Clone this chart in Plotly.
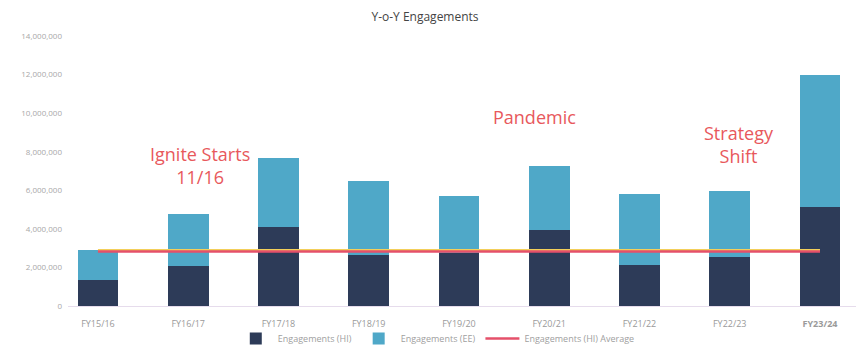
import plotly.graph_objects as go

# Fiscal years and engagement counts
years = ["FY15/16", "FY16/17", "FY17/18", "FY18/19", "FY19/20",
         "FY20/21", "FY21/22", "FY22/23", "FY23/24"]
engagements_hi = [1350000, 2090000, 4100000, 2650000, 2730000,
                  3940000, 2120000, 2550000, 5140000]
engagements_ee = [1550000, 2680000, 3600000, 3850000, 2970000,
                  3310000, 3700000, 3420000, 6830000]
hi_average = [2830000] * len(years)
hi_average_band = [2900000] * len(years)

tick_labels = years[:-1] + ["<b>FY23/24</b>"]
y_ticks = [0, 2000000, 4000000, 6000000, 8000000, 10000000, 12000000, 14000000]
y_tick_text = ["0", "2,000,000", "4,000,000", "6,000,000", "8,000,000",
               "10,000,000", "12,000,000", "14,000,000"]

DARK = "#2d3b58"
LIGHT = "#4fa8c8"
RED = "#e5506a"
YELLOW = "#f3cf5a"
ANNOT = "#e8585c"
FONT = "Open Sans, Liberation Sans, sans-serif"

fig = go.Figure()
fig.add_trace(go.Bar(x=years, y=engagements_hi, name="Engagements (HI)",
                     marker=dict(color=DARK, line=dict(width=0))))
fig.add_trace(go.Bar(x=years, y=engagements_ee, name="Engagements (EE)",
                     marker=dict(color=LIGHT, line=dict(width=0))))
fig.add_trace(go.Scatter(x=years, y=hi_average_band, mode="lines",
                         line=dict(color=YELLOW, width=2),
                         showlegend=False, hoverinfo="skip"))
fig.add_trace(go.Scatter(x=years, y=hi_average, mode="lines",
                         name="Engagements (HI) Average",
                         line=dict(color=RED, width=2.5)))

annotations = [
    dict(x=143, y=169, text="Ignite Starts<br>11/16"),
    dict(x=507, y=106, text="Pandemic"),
    dict(x=729, y=142, text="Strategy<br>Shift"),
]
for a in annotations:
    fig.add_annotation(x=a["x"] / 856, y=1 - a["y"] / 353, xref="paper", yref="paper",
                       xanchor="center", yanchor="middle", text=a["text"],
                       showarrow=False, align="center",
                       font=dict(family=FONT, size=18, color=ANNOT))

fig.update_layout(
    width=856, height=353,
    margin=dict(l=68, r=0, t=36, b=47),
    barmode="stack", bargap=0.55,
    paper_bgcolor="white", plot_bgcolor="white",
    title=dict(text="Y-o-Y Engagements", x=425 / 856, xanchor="center",
               y=1 - 17 / 353, yanchor="middle",
               font=dict(family=FONT, size=12, color="#444444")),
    font=dict(family=FONT, color="#9a9a9a"),
    legend=dict(orientation="h", x=0.468, xanchor="center",
                yref="container", y=-0.02, yanchor="bottom",
                bgcolor="rgba(0,0,0,0)",
                font=dict(size=9, color="#a0a0a0"), traceorder="normal",
                itemwidth=34),
    xaxis=dict(type="category", range=[-0.332, 8.399], automargin=False,
               tickmode="array", tickvals=years, ticktext=tick_labels,
               tickfont=dict(size=9, color="#9a9a9a"),
               showgrid=False, showline=True, linecolor="#e6dcec", linewidth=1,
               ticks="", ticklabelstandoff=9),
    yaxis=dict(range=[0, 14000000], tickvals=y_ticks, ticktext=y_tick_text,
               automargin=False,
               tickfont=dict(size=8, color="#a8a8a8"), showgrid=False,
               zeroline=False, ticklabelstandoff=5),
)

fig.write_html("out.html")
